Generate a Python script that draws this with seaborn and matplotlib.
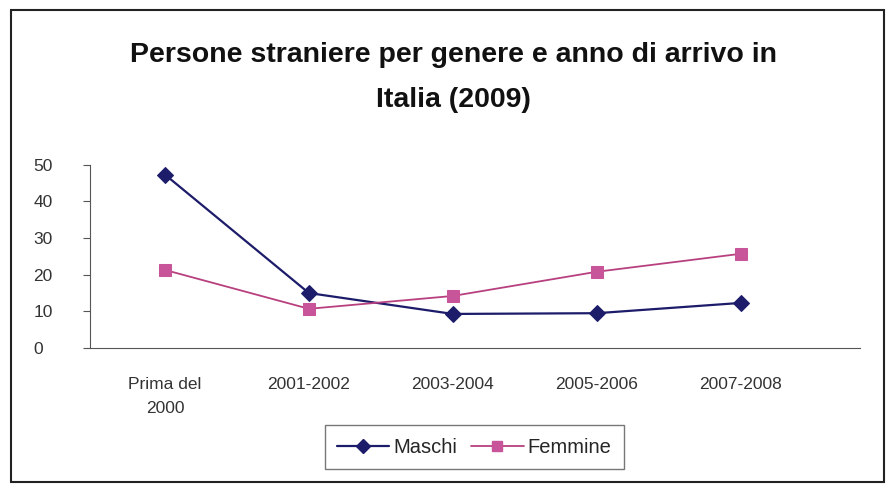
import pandas as pd
import seaborn as sns
import matplotlib.pyplot as plt
from matplotlib.patches import Rectangle

# data
periods = ["Prima del\n2000", "2001-2002", "2003-2004", "2005-2006", "2007-2008"]
maschi = [47.3, 15.0, 9.3, 9.5, 12.3]
femmine = [21.3, 10.7, 14.2, 20.8, 25.7]

df = pd.DataFrame({
    "pos": list(range(len(periods))) * 2,
    "valore": maschi + femmine,
    "genere": ["Maschi"] * len(periods) + ["Femmine"] * len(periods),
})

sns.set_style("white")
plt.rcParams["font.family"] = ["Liberation Sans", "DejaVu Sans"]

fig = plt.figure(figsize=(8.93, 4.94), dpi=100)
ax = fig.add_axes([0.101, 0.2955, 0.862, 0.371])

colors = {"Maschi": "#1c1c6a", "Femmine": "#b8407f"}
sns.lineplot(data=df, x="pos", y="valore", hue="genere", style="genere",
             palette=colors, markers={"Maschi": "D", "Femmine": "s"},
             dashes=False, markersize=8, linewidth=1.6, ax=ax, legend=False)
for line in ax.lines:
    c = line.get_color()
    line.set_markerfacecolor(c)
    line.set_markeredgecolor(c)
ax.lines[1].set_markerfacecolor("#c8559a")
ax.lines[1].set_markeredgecolor("#c8559a")
ax.lines[1].set_linewidth(1.3)

ax.set_xlim(-0.52, 4.83)
ax.set_ylim(0, 50)
ax.set_yticks([0, 10, 20, 30, 40, 50])
ax.set_xticks(range(len(periods)))
ax.set_xticklabels(periods, linespacing=1.7)
ax.set_xticks([0.5, 1.5, 2.5, 3.5], minor=True)
ax.tick_params(axis="x", which="major", length=0, pad=21, labelsize=12.5, colors="#333333")
ax.tick_params(axis="x", which="minor", length=5, direction="out", color="#555555")
ax.tick_params(axis="y", length=5, direction="out", color="#555555", labelsize=12.5,
               labelcolor="#333333", pad=36, left=True)
for lab in ax.get_yticklabels():
    lab.set_horizontalalignment("left")
ax.set_xlabel("")
ax.set_ylabel("")
for s in ["top", "right"]:
    ax.spines[s].set_visible(False)
ax.spines["left"].set_color("#555555")
ax.spines["bottom"].set_color("#555555")
ax.set_facecolor("white")

fig.text(0.508, 0.889, "Persone straniere per genere e anno di arrivo in",
         ha="center", va="center", fontsize=20.5, fontweight="bold", color="#111111")
fig.text(0.508, 0.798, "Italia (2009)",
         ha="center", va="center", fontsize=20.5, fontweight="bold", color="#111111")

handles = [
    plt.Line2D([], [], color=colors["Maschi"], marker="D", markersize=7, linewidth=1.6),
    plt.Line2D([], [], color="#b8407f", marker="s", markersize=7, linewidth=1.3,
               markerfacecolor="#c8559a", markeredgecolor="#c8559a"),
]
leg = fig.legend(handles, ["Maschi", "Femmine"], loc="center", ncol=2,
                 bbox_to_anchor=(0.531, 0.095), frameon=True, fancybox=False,
                 edgecolor="#555555", fontsize=14.5, handlelength=2.6,
                 handletextpad=0.2, columnspacing=0.7, borderpad=0.6)
leg.get_frame().set_linewidth(1.0)

fig.patches.append(Rectangle((0.012, 0.025), 0.978, 0.955, transform=fig.transFigure,
                             fill=False, edgecolor="#222222", linewidth=1.5))

fig.savefig("out.png", dpi=100)
